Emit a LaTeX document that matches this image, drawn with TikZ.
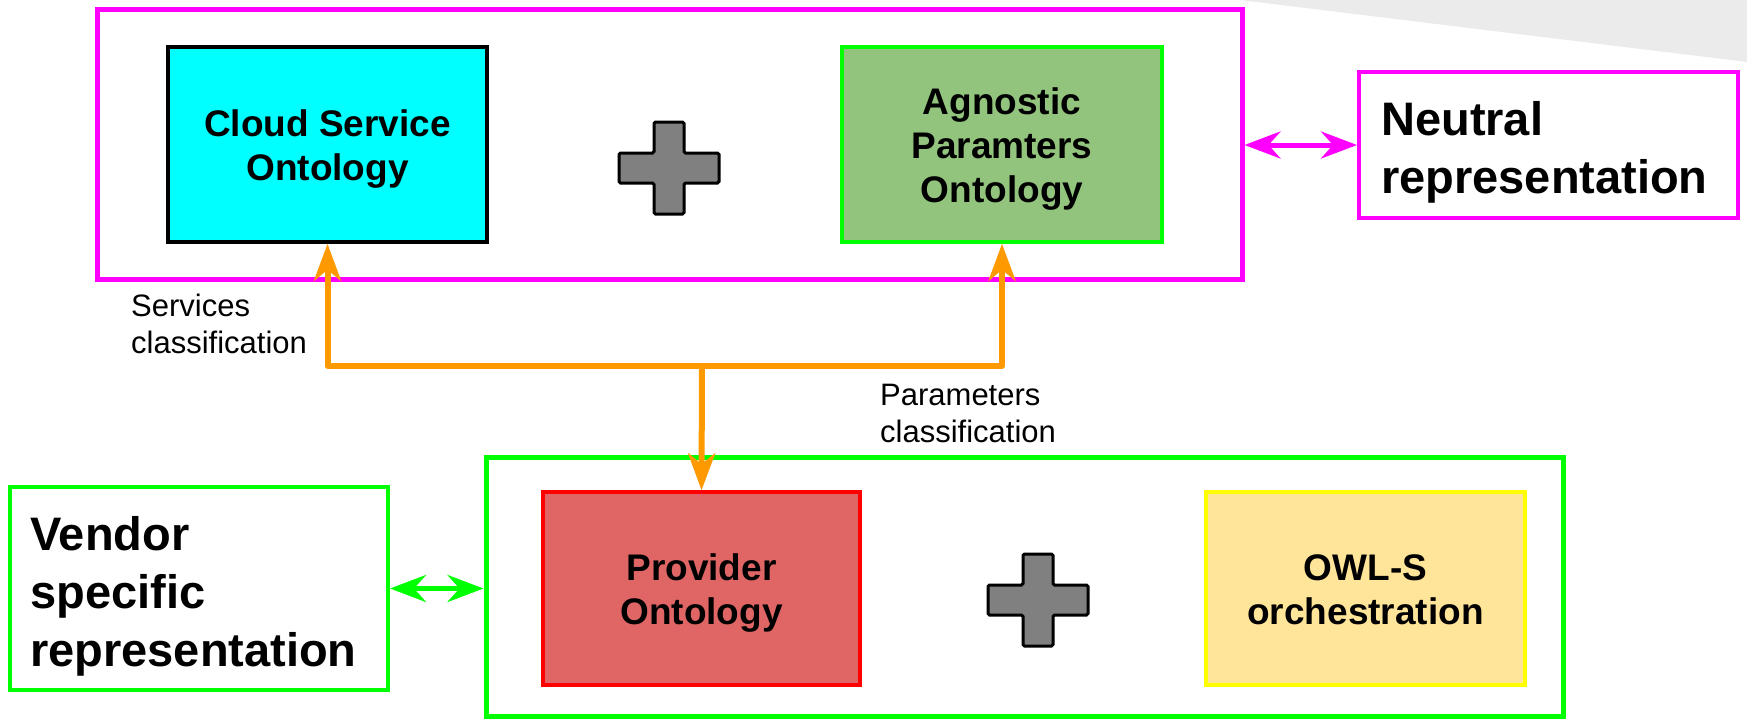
\documentclass[tikz,border=0pt]{standalone}
\usepackage{fontspec}
\setmainfont{Liberation Sans}
\usetikzlibrary{arrows.meta}

\definecolor{magentaline}{HTML}{FF00FF}
\definecolor{limeline}{HTML}{00FF00}
\definecolor{cyanfill}{HTML}{00FFFF}
\definecolor{sagefill}{HTML}{93C47D}
\definecolor{rosefill}{HTML}{E06666}
\definecolor{redline}{HTML}{FF0000}
\definecolor{sandfill}{HTML}{FFE599}
\definecolor{yellowline}{HTML}{FFFF00}
\definecolor{amber}{HTML}{FF9900}
\definecolor{crossgrey}{HTML}{808080}
\definecolor{pagegrey}{HTML}{EBEBEB}

% fixed line height on the first line and fixed depth on the last one,
% so every box centres its text on whole line boxes
\newcommand{\firststrut}{\rule{0pt}{36pt}}
\newcommand{\laststrut}{\rule[-9pt]{0pt}{9pt}}

\tikzset{
  frame/.style={draw, line width=5pt, rectangle, inner sep=0pt},
  box/.style={draw, line width=3.5pt, rectangle, inner sep=0pt, align=center,
    font=\bfseries\fontsize{37}{44}\selectfont},
  bigtext/.style={font=\bfseries\fontsize{47}{58}\selectfont, align=left,
    inner sep=0pt, anchor=north west},
  note/.style={font=\fontsize{31}{37}\selectfont, align=left, inner sep=0pt,
    anchor=north west},
  link/.style={draw=amber, line width=6pt, line join=round,
    -{Stealth[length=37pt,width=27pt,inset=11pt]}},
  twoway/.style={line width=5pt,
    {Stealth[length=36pt,width=27pt,inset=12pt]}-{Stealth[length=36pt,width=27pt,inset=12pt]}},
  cross/.style={fill=crossgrey, draw=black, line width=3pt, rounded corners=1.5pt},
  plussign/.pic={
    \draw[cross] (-15,-46) -- (15,-46) -- (15,-15) -- (50,-15) -- (50,15)
      -- (15,15) -- (15,46) -- (-15,46) -- (-15,15) -- (-50,15) -- (-50,-15)
      -- (-15,-15) -- cycle;
  },
}

\begin{document}
\begin{tikzpicture}[x=1pt, y=-1pt]
  \useasboundingbox (0,0) rectangle (1747,721);

  % page corner shading
  \fill[pagegrey] (1240,0) -- (1747,0) -- (1747,62) -- cycle;

  % neutral layer
  \node[frame, draw=magentaline, minimum width=1145pt, minimum height=270pt]
    (neutral) at (669.5,144) {};
  \node[box, fill=cyanfill, draw=black, minimum width=319pt, minimum height=195pt]
    (cso) at (327.5,144.5) {\firststrut Cloud Service\\Ontology\laststrut};
  \node[box, fill=sagefill, draw=limeline, minimum width=320pt, minimum height=195pt]
    (apo) at (1002,144.5) {\firststrut Agnostic\\Paramters\\Ontology\laststrut};
  \pic at (669,168) {plussign};

  \node[frame, draw=magentaline, line width=4pt, minimum width=379pt, minimum height=146pt]
    (nrep) at (1548.5,145) {};
  \node[bigtext] (nreptext) at (1381,101) {Neutral\\representation};

  % vendor layer
  \node[frame, draw=limeline, minimum width=1077pt, minimum height=259pt]
    (vendor) at (1024.5,586.5) {};
  \node[box, fill=rosefill, draw=redline, minimum width=317pt, minimum height=193pt]
    (prov) at (701.5,588.5) {\firststrut Provider\\Ontology\laststrut};
  \node[box, fill=sandfill, draw=yellowline, minimum width=319pt, minimum height=193pt]
    (owls) at (1365.5,588.5) {\firststrut OWL-S\\orchestration\laststrut};
  \pic at (1038,600) {plussign};

  \node[frame, draw=limeline, line width=4pt, minimum width=378pt, minimum height=203pt]
    (vrep) at (199,588.5) {};
  \node[bigtext] (vreptext) at (30,516) {Vendor\\specific\\representation};

  % classification links
  \coordinate (jn) at (702,366);
  \draw[link] (jn) -| (cso.south);
  \draw[link] (jn) -| (apo.south);
  \draw[link] (jn) -- (prov.north);

  \node[note] (svc) at (131,294) {Services\\classification};
  \node[note] (par) at (880,384) {Parameters\\classification};

  % layer correspondences
  \draw[twoway, magentaline] (neutral.east |- nrep.west) -- (nrep.west);
  \draw[twoway, limeline] (vrep.east) -- (vendor.west |- vrep.east);
\end{tikzpicture}
\end{document}
